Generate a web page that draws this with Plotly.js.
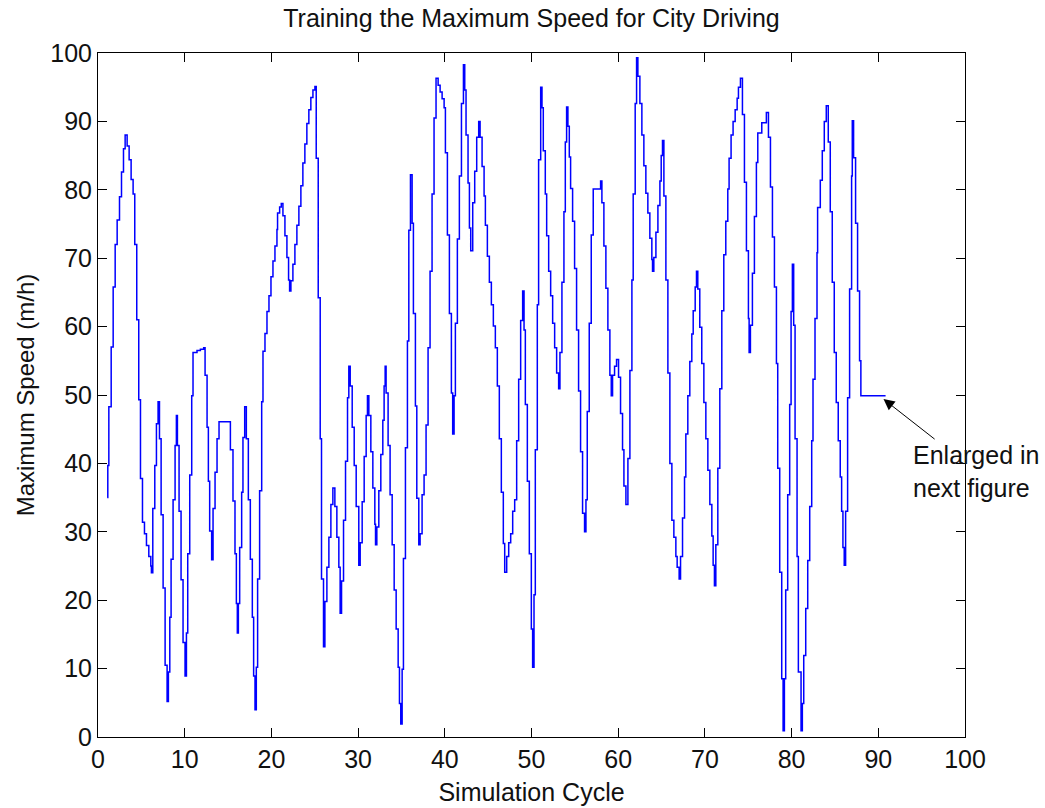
<!DOCTYPE html>
<html>
<head>
<meta charset="utf-8">
<script src="https://cdn.plot.ly/plotly-3.0.1.min.js"></script>
<style>html,body{margin:0;padding:0;background:#fff;}#chart{width:1045px;height:808px;}</style>
</head>
<body>
<div id="chart"></div>
<script>
// Simulation cycle (x) and maximum speed (m/h), in five pieces
const cycle1 = [1.06,1.13,1.25,1.52,1.75,1.98,2.21,2.48,2.71,2.94,3.13,
  3.36,3.59,3.82,4.05,4.24,4.47,4.70,4.90,5.13,5.36,5.59,5.86,6.09,6.16,
  6.32,6.55,6.74,6.93,7.09,7.28,7.51,7.74,7.97,
  8.12,8.28,8.43,8.66,8.89,9.04,
  9.16,9.35,9.58,9.81,10.04,
  10.20,10.35,10.58,10.81,10.96,11.42,11.81,12.19,
  12.35,12.58,12.73,12.88,13.11,
  13.27,13.50,13.73,13.96,14.50,15.07,
  15.27,15.57,15.80,15.96,16.07,
  16.19,16.34,16.57,16.72,16.92,
  17.11,17.34,17.57,17.80,17.95,18.11,
  18.26,18.41,18.64,18.88,19.03,19.26,19.49,19.72,19.95,20.18,20.41,20.64];
const speed1 = [35,39.7,48.3,57,65.8,72,75.6,79,82.6,86,88,
  86.4,84.4,81.5,79.4,72,61,49.3,37.8,31.4,29.7,28,26.4,25,24,
  33.4,39.7,45.8,49,43.6,32.5,21.8,10.5,5.2,
  9.5,17.5,26,34.7,42.6,47,
  42.6,33,23,13.8,8.9,
  15.2,26.8,38.3,49.9,56.2,56.5,56.7,56.9,
  52.9,45.3,37.4,30.1,25.9,
  33.4,38.7,43.6,46.1,46.1,46.1,
  42,34.5,26.8,19.5,15.2,
  19.5,27.7,35.8,43.8,48.3,
  43.6,34.7,26,17.5,8.9,4,
  10.2,23.1,36,49,56.4,59,62.2,64.5,67.3,69.6,71.8,74.2];

const cycle2 = [20.71,20.95,21.14,
  21.33,21.56,21.79,21.98,22.10,
  22.25,22.48,22.71,22.94,23.17,23.40,23.63,23.86,24.09,24.32,24.55,24.79,25.02,
  25.17,25.40,25.63,25.78,26.01,
  26.17,26.40,26.63,26.86,27.09,
  27.32,27.55,27.78,27.93,
  28.09,28.32,28.55,28.78,28.93,
  29.09,29.32,29.55,29.78,30.08,
  30.24,30.47,30.70,30.93,31.08,
  31.24,31.47,31.70,31.93,32.01,
  32.16,32.39,32.62,32.85,33.00,33.12,
  33.23,33.46,33.69,33.93,34.16,34.39,34.62,34.77,34.92,
  35.08,35.23,35.46,35.69,35.85,36.04,
  36.23,36.38,36.61,36.77,37.00,
  37.15,37.38,37.61,37.84,38.07,38.30,38.53,38.76,38.99,
  39.23,39.46,39.69,39.92,40.07,40.30,40.53,40.76,40.91,
  41.07,41.22,41.45,41.68];
const speed2 = [76.6,77.5,78,
  76.2,73.3,70.1,66.8,65.2,
  66.7,69.1,72,74.8,77.6,80.6,83.9,86.7,89.7,91.7,93.5,94.6,95.1,
  84.6,64.2,43.6,23.1,13.2,
  19.8,24.8,29.2,34,36.4,
  33.7,29.2,24.8,18.1,
  22.8,31.7,40.3,49.6,54.2,
  51.3,45.3,39.7,33.7,25.1,
  28.4,34.4,41,47,49.9,
  47,41.7,36.4,31.1,28.1,
  30.7,36,41.3,46.3,51.3,54.2,
  50.3,42.6,35.4,28.1,21.5,15.8,10.2,4.9,1.9,
  9.9,26.1,42.3,57.9,74.1,82.2,
  75.1,61.9,48.4,34.9,28.1,
  29.7,35.4,38.3,45.6,56.9,68.1,79.4,90.5,96.3,
  95.3,94.3,93.3,92,85.4,73.4,61.9,50.3,44.3,
  49.9,60.5,72.8,82];

const cycle3 = [41.92,42.15,
  42.30,42.45,42.68,42.84,42.99,
  43.22,43.45,43.68,43.91,
  44.07,44.30,44.53,44.68,44.91,45.14,45.37,45.60,45.83,46.06,46.29,46.52,46.75,46.91,
  47.14,47.37,47.60,47.83,48.06,48.29,48.52,48.75,48.98,
  49.14,49.29,49.52,49.75,49.98,50.13,
  50.29,50.44,50.67,50.82,51.06,
  51.21,51.36,51.59,51.75,51.98,52.21,52.44,52.67,52.90,53.13,
  53.28,53.51,53.74,53.90,54.05,
  54.20,54.36,54.51,54.74,54.97,55.20,55.43,55.66,55.89,56.12,
  56.28,56.43,56.66,56.89,57.12,57.97,
  58.12,58.35,58.58,58.81,59.04,59.20,
  59.35,59.58,59.81,
  60.04,60.27,60.50,60.66,60.89,
  61.12,61.35,61.58,61.73,61.96,62.12];
const speed3 = [92.6,98.3,
  94.6,88,81,74.4,71.1,
  78.1,82.7,87.7,90,
  87.7,83.4,79.1,74.8,70.3,66.5,63.2,60.1,56.9,51.3,43.6,35.8,28.3,24.1,
  26.4,28.4,29.7,33,34.7,43.3,52.3,60.9,65.2,
  59.5,48.6,37.4,26.8,15.8,10.2,
  20.8,42,63.2,84.4,95,
  92,85.7,79.4,73.3,68.1,64.5,60.5,56.9,53.2,50.9,
  56.2,66.5,76.8,87,92.1,
  89.3,84.8,80.2,75.4,68.5,59.5,50.6,41.7,32.7,30,
  34.7,47.6,60.5,73.4,80.1,81.3,
  78.1,71.8,65.6,59.5,52.9,49.9,
  52.9,54.2,55.2,
  52.6,47.3,42,36.7,34,
  40.7,53.6,66.8,79.4,92.6,99.3];

const cycle4 = [62.27,62.50,62.73,62.96,63.19,63.42,63.65,63.88,63.96,
  64.11,64.35,64.58,64.81,64.96,65.11,
  65.27,65.50,65.73,65.96,66.19,66.42,66.65,66.80,67.03,
  67.19,67.42,67.65,67.80,68.03,68.26,68.49,68.65,68.88,69.03,
  69.18,69.41,69.64,69.88,70.11,70.34,70.57,70.80,70.95,71.10,
  71.26,71.49,71.72,71.95,72.18,72.41,72.64,72.79,73.02,73.25,73.49,73.72,73.87,74.10,
  74.33,74.56,74.79,75.02,75.10,
  75.25,75.48,75.71,75.94,76.10,76.56,77.09,
  77.33,77.56,77.79,78.02,78.25,78.40,78.63,78.86,79.02,
  79.17,79.32,79.55,79.78,79.94,80.09,
  80.24,80.40,80.63,80.78,81.09,
  81.24,81.40,81.63,81.86,82.09,82.32,82.47,82.70,82.93];
const speed4 = [96.6,92.6,88,83.5,79.5,76.6,72.9,69.8,68.1,
  70.1,73.8,77.7,81.3,85,87.2,
  79.1,66.8,53.2,40,31.7,29.2,26.4,24.8,23.1,
  26.4,32,38,44.3,49.9,54.9,58.9,62.3,65.8,68.1,
  65.5,59.9,54.6,48.9,43.6,39,34,29.4,25.1,22.1,
  28.1,39.3,50.9,62.3,70.5,75.4,80.1,84.6,88,90,91.7,93.4,95,96.3,
  91,81.1,71.1,61.2,56.2,
  60.2,67.8,76.1,84,88.3,89.8,91.3,
  87.7,80.4,73.1,65.8,54.6,39.3,24.1,8.5,0.9,
  8.5,21.5,35.4,48.6,62.2,69.1,
  60.2,43.6,26.4,9.5,0.9,
  4.9,11.9,18.8,25.8,33.7,43.3,52.3,61.2,70.8];

const cycle5 = [83.00,83.31,83.54,83.77,84.00,
  84.23,84.46,84.69,84.92,85.15,85.38,85.61,85.77,85.92,86.07,
  86.23,86.46,86.69,86.92,87.00,
  87.15,87.38,87.61,87.84,87.99,90.84];
const speed5 = [77.4,81.4,85.7,90,92.3,
  87,76.8,66.5,56.2,48.9,43.3,38,33,27.7,25.1,
  33,49.6,65.5,82,90.1,
  84.7,75.1,65.2,55,49.9,49.9];

const xTicks = [0,10,20,30,40,50,60,70,80,90,100];
const yTicks = [0,10,20,30,40,50,60,70,80,90,100];

const titleText = 'Training the Maximum Speed for City Driving';
const xTitle = 'Simulation Cycle';
const yTitle = 'Maximum Speed (m/h)';
const noteText = 'Enlarged in<br>next figure';
const notePoint = [90.6, 49.4];

const cycle = [].concat(cycle1, cycle2, cycle3, cycle4, cycle5);
const speed = [].concat(speed1, speed2, speed3, speed4, speed5);

const FONT = 'Liberation Sans, Arial, Helvetica, sans-serif';
const FS = 25;

const trace = {
  x: cycle, y: speed, type: 'scatter', mode: 'lines',
  line: {color: '#0000ff', width: 1.5, shape: 'hv'},
  hoverinfo: 'skip'
};

const axisCommon = {
  range: [0, 100], showgrid: false, zeroline: false,
  showline: true, linecolor: '#000', linewidth: 1, mirror: 'ticks',
  ticks: 'inside', ticklen: 9, tickwidth: 1, tickcolor: '#000',
  tickfont: {family: FONT, size: FS, color: '#111'},
  fixedrange: true
};

const layout = {
  width: 1045, height: 808,
  margin: {l: 98, r: 80, t: 53, b: 71, pad: 0},
  paper_bgcolor: '#fff', plot_bgcolor: '#fff',
  showlegend: false,
  font: {family: FONT, color: '#111'},
  title: {text: titleText, font: {family: FONT, size: FS, color: '#111'},
          x: 0.5, xref: 'paper', xanchor: 'center', y: 0.978, yref: 'container', yanchor: 'middle'},
  xaxis: Object.assign({}, axisCommon, {
    tickvals: xTicks, ticktext: xTicks.map(String),
    title: {text: xTitle, font: {family: FONT, size: FS, color: '#111'}, standoff: 11}
  }),
  yaxis: Object.assign({}, axisCommon, {
    tickvals: yTicks, ticktext: yTicks.map(String),
    title: {text: yTitle, font: {family: FONT, size: 24, color: '#111'}, standoff: 8}
  }),
  annotations: [{
    x: notePoint[0], y: notePoint[1], xref: 'x', yref: 'y',
    text: noteText, align: 'left', showarrow: true,
    ax: 92, ay: 72, axref: 'pixel', ayref: 'pixel',
    arrowhead: 2, arrowsize: 2.2, arrowwidth: 1, arrowcolor: '#000',
    font: {family: FONT, size: FS, color: '#111'}
  }]
};

Plotly.newPlot('chart', [trace], layout, {staticPlot: true, displayModeBar: false});
</script>
</body>
</html>
